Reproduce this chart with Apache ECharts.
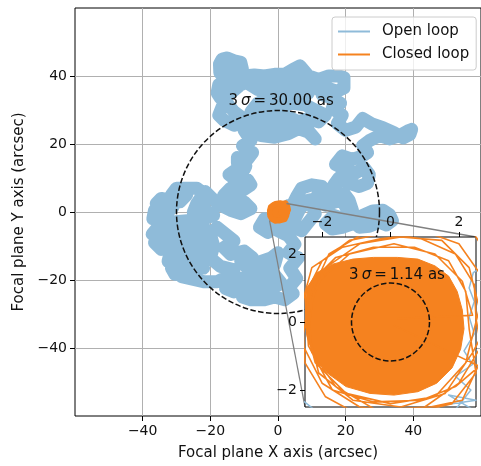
<!DOCTYPE html>
<html><head><meta charset="utf-8">
<script src="https://cdn.jsdelivr.net/npm/echarts@6/dist/echarts.min.js"></script>
<style>html,body{margin:0;padding:0;background:#fff}#c{width:481px;height:466px}</style>
</head><body><div id="c"></div>
<script>
// ---------------- data ----------------
const seriesNames = ['Open loop', 'Closed loop'];
const mainTicks = [-40, -20, 0, 20, 40];
const insetTicks = [-2, 0, 2];
const sigmaOpen = 30.00;   // 3 sigma radius, open loop (arcsec)
const sigmaClosed = 1.14;  // 3 sigma radius, closed loop (arcsec)

// open-loop focal plane trajectory (x, y) in arcsec
const openLoop = [
 [-2.7,-2.2],[-2.2,-2.6],[-1.2,-3.3],[0.4,-3.1],[1.5,-2.45],[2.5,-2.3],[1.7,-2.15],[2.45,-2.6],[1.8,-2.7],
 [2.35,-2.0],[1.9,-1.6],[2.4,-1.25],[2.15,-0.85],[2.45,-0.35],[2.3,0.15],[2.45,0.6],[2.3,1.0],[2.42,1.45],[3.1,1.9],
 [4,1.5],[5.5,4.5],[7,7],[10,8],[13,7.5],[15,5],[12,4],[9,3.5],[6.5,1],[5,-2],[4.5,-4.5],[7,-5.5],[9,-3],[11,-0.5],
 [10,2],[12,5.5],[15,6.5],[14,2],
 [14,1.5],[17,3],[19.5,5.5],[21,3.5],[22,0.5],[19.5,-2],[16.5,-1],[14,-3.5],[16,-5],[19,-4.5],[22,-3.5],[25,-1],
 [28,0.3],[31,0.5],[33,-0.8],[33.8,-2.5],[32,-3.8],[30,-3],[27,-4.2],[24,-4.5],[22,-2],[20,1.5],[18,5],[16.5,8],
 [18,10],[21,8.5],[24,7.5],[26.5,8.5],[27,11],[25.5,13],[23,11.5],[20,12.5],[17,14],[19,16.5],[22,15.5],[25,16.5],
 [26.5,17.5],[25,19.5],[27,21],[30,22.5],[33,21.5],[36,22.5],[38.3,23.8],[39.5,24.3],[39,22.8],[37,21.8],[34,23.5],[31,24.8],
 [28,25.8],[25,27.5],[23,25],[20,24],[17.5,26],[19,28.5],[16,30.5],[18.5,32],[16,33.5],[13,34.5],[14.5,36.5],
 [17.5,35.5],[19.5,36.5],[19.5,39.5],[18,40],[15,40],[12,39],[9,40],[6.5,43],[4.5,42],[2,40.5],[-1,40.5],
 [-4,40],[-7,40.3],[-10,40],[-13,40.5],[-16,39.5],[-17.2,41],[-17.3,43.5],[-16.5,45],[-15,45.3],[-13,44.5],
 [-11,44],[-10.5,42],[-12.5,43],[-15.5,43],[-15,41.5],[-13,38.5],[-16,37],[-17.5,37.5],[-18,35],[-17,33.5],
 [-14.5,34.5],[-11,37.5],[-8,38.5],[-5,37],[-1,38.5],[3,37.5],[7,38.5],[10,37.5],[12,36],
 [10,39.5],[5,40],[0,39.5],[-5,39],[-10,38.5],[-6,36],[-2,36],[2,36.5],[6,36],
 [9,35],[6,34],[3,35],
 [0,34],[-3,33.5],[-6,32],[-8,29.5],[-5,28.5],[-2,30],[1,31],[4,32],[8,31.5],[11,30],[14,28.5],[12,26.5],[9,27.5],
 [6,26.5],[3,28],[0,27],[-3,26],[-6,25],[-8.5,23.5],[-5,22.5],[-1,22],[3,23],[6,24.5],[9,23.5],[11,21.5],
 [8,25],[-2,24.5],[-10,26.5],[-13,25.5],[-16,27],[-17.5,28.5],[-16.5,31],[-15,32],[-13,29.5],[-11,28],
 [-10,24],[-8,21],[-10.5,19.5],[-9,18],[-7.5,17.5],[-9,15.5],[-12,16],[-12,14.5],[-9.5,13.5],[-10,12.5],[-13,12],
 [-14.5,11],[-12.5,9.5],[-9,9.5],[-8,8],[-11,6],[-14,7],[-16,5],[-13,3.5],[-10,3],[-8,1],[-11,-0.5],[-14,0.5],
 [-17,2],[-19.5,4],[-21.5,6],[-23,3.5],
 [-21.5,0.5],[-19,-1],[-22,-2],[-25,0],[-24,2.5],[-22,5.5],[-24,7],[-30,7],[-31.5,5],[-27,5],[-29,3],[-34.5,4],
 [-36,2.5],[-31,1.5],[-33,-0.5],[-36.5,0.5],[-37,-2],[-32,-3],[-26,-2.5],[-22,-4],[-25,-5],[-31,-5],[-35.5,-4.5],
 [-37.2,-6.5],[-35,-7.5],[-29,-7],[-23,-6.5],[-21,-8.5],[-27,-9],[-33,-8.5],[-36.5,-9],[-34.5,-11],[-30,-10.5],
 [-24,-11],[-21,-12.5],[-27,-13],[-32,-12.5],[-32.5,-14.5],[-29,-15],[-23,-14.5],[-22,-16.5],[-28,-17],[-31.5,-16.5],
 [-30.5,-18.3],[-27,-18.5],[-24,-18.3],[-25,-19.5],[-28.5,-19],[-22,-20.5],[-18,-20.5],[-15,-19],[-13,-17],[-17,-16],
 [-20,-13.5],[-19,-10],[-20,-6.5],[-18,-4.5],[-15.5,-6.5],[-13,-8.5],[-16,-10.5],[-14,-12.5],[-10,-11.5],
 [-7.5,-13.5],[-11,-14.5],[-9,-16.5],[-5,-14.5],[-2,-13.5],[0,-12],[-1,-15.5],[-5,-17.5],[-8,-19.5],[-11.5,-19.5],
 [-14,-21.5],[-15.5,-22.5],[-13,-23.5],[-10,-22.5],[-7,-21.5],[-4,-20.5],[-1,-18.5],[1,-21],[-2,-22.5],[-5,-24],
 [-8,-24.5],[-10.5,-25],[-8,-25.8],[-4,-25.8],[-1,-25],[2,-25.8],[4.5,-24],[3,-22.5],[5.5,-19.5],[3.5,-16.5],
 [6,-13.5],[3,-12],[5,-9.5],[3,-7],[1,-6],[-2,-4.5],[-4,-2],[-5.5,-4.5],[-3,-6]
];

// closed-loop trajectory (x, y) in arcsec
const closedLoop = [
 [0.2,0.1],[2.4,0.2],[2.1,1.2],[1.3,2.0],[0.1,2.3],[-1.2,2.0],[-2.1,1.2],[-2.5,0.0],[-2.2,-1.2],[-1.3,-2.1],
 [0.0,-2.4],[1.3,-2.2],[2.2,-1.2],[2.6,0.4],[2.3,1.6],[1.5,2.4],[0.3,2.5],[-0.9,2.3],[-1.9,1.6],[-2.4,0.4],
 [-2.3,-0.9],[-1.6,-1.9],[-0.4,-2.6],[1.0,-2.5],[2.0,-1.8],[2.9,-0.3],[2.7,1.3],[2.0,2.3],[0.6,2.8],[-0.8,2.6],
 [-1.8,2.0],[-2.3,0.9],[-2.6,-0.6],[-2.0,-1.8],[-0.9,-2.5],[0.6,-2.7],[1.8,-2.4],[2.5,-1.5],[2.3,-0.2],[2.2,0.9],
 [1.7,1.8],[0.7,2.2],[-0.5,2.2],[-1.6,1.9],[-2.2,1.3],[-2.4,-0.3],[-2.1,-1.5],[-1.1,-2.3],[0.3,-2.5],[1.6,-2.1],
 [2.4,-0.9],[3.2,0.6],[2.9,1.9],[2.3,2.8],[1.0,2.6],[-0.3,2.45],[-1.4,2.2],[-2.3,1.6],[-2.6,0.5],[-2.5,-1.2],
 [-1.9,-2.2],[-0.8,-2.8],[0.7,-2.6],[2.1,-2.3],[2.7,-1.0],[2.5,0.1],[2.45,1.1],[1.9,2.0],[0.9,2.45],[-0.2,2.6],
 [-1.2,2.4],[-2.0,1.8],[-2.5,0.8],[-2.4,-0.7],[-1.7,-2.0],[-0.5,-2.35],[0.9,-2.3],[1.9,-1.9],[2.6,-1.3],[0.1,-0.1]
];

// outline of the densely covered core of the closed-loop trajectory
const closedCore = [
 [-2.45,1.0],[-2.15,1.45],[-1.7,1.7],[-1.1,1.85],[-0.5,1.9],[0.2,1.9],[0.8,1.85],[1.3,1.65],[1.7,1.35],[1.95,0.9],
 [2.1,0.35],[2.15,-0.2],[2.05,-0.8],[1.8,-1.35],[1.35,-1.8],[0.8,-2.05],[0.1,-2.15],[-0.6,-2.1],[-1.3,-1.9],
 [-1.85,-1.5],[-2.25,-1.0],[-2.45,-0.4],[-2.5,0.3]
];

// ---------------- styling ----------------
const FONT = 'DejaVu Sans';
const BLUE = '#8fbbd9';
const ORANGE = '#f5821f';
const TXT = '#111';
const fmt = v => (v < 0 ? '\u2212' + Math.abs(v) : String(v));
const mainExtent = [-60, 60];
const insetExtent = [-2.5, 2.5];
const mainLabelAt = [0.9, 32.6];
const insetLabelAt = [0.19, 1.38];

function sigmaRender(labelAt, fontSize) {
  return function (params, api) {
    const c = api.coord([api.value(0), api.value(1)]);
    const r = api.size([api.value(2), 0])[0];
    const t = api.coord(labelAt);
    return {
      type: 'group',
      children: [
        { type: 'circle', shape: { cx: c[0], cy: c[1], r: r },
          style: { fill: 'none', stroke: '#111', lineWidth: 1.5, lineDash: [5.5, 2.4] } },
        { type: 'text', x: t[0], y: t[1],
          style: { text: '{n|3\u2009}{s|σ}{n|\u2009=\u2009' + api.value(2).toFixed(2) + ' as}',
                   align: 'center', verticalAlign: 'middle',
                   rich: { n: { fontFamily: FONT, fontSize: fontSize, fill: TXT },
                           s: { fontFamily: FONT, fontSize: fontSize, fontStyle: 'italic', fill: TXT } } } }
      ]
    };
  };
}
function coreRender(params, api) {
  return { type: 'polygon', shape: { points: closedCore.map(p => api.coord(p)) },
           style: { fill: ORANGE, stroke: ORANGE, lineWidth: 1 } };
}

const chart = echarts.init(document.getElementById('c'), null, { renderer: 'canvas' });

function axisDef(gridIndex, extent, ticks, extra) {
  return Object.assign({
    type: 'value', gridIndex: gridIndex, min: extent[0], max: extent[1],
    axisLine: { show: false, onZero: false },
    axisTick: { show: true, inside: false, length: 5, lineStyle: { color: '#000', width: 1 }, customValues: ticks },
    axisLabel: { formatter: fmt, fontFamily: FONT, fontSize: 14, color: TXT, margin: 8, customValues: ticks },
    nameTextStyle: { fontFamily: FONT, fontSize: 15, color: TXT }
  }, extra);
}

const option = {
  animation: false,
  backgroundColor: '#fff',
  grid: [
    { left: 75, top: 8, width: 409, height: 408, show: true, borderColor: '#000', borderWidth: 1,
      backgroundColor: 'transparent' },
    { left: 305, top: 237, width: 171, height: 170, show: true, borderColor: '#000', borderWidth: 1,
      backgroundColor: '#fff', z: 10 }
  ],
  xAxis: [
    axisDef(0, mainExtent, mainTicks, { interval: 20,
      splitLine: { show: true, lineStyle: { color: '#b0b0b0', width: 1 } },
      name: 'Focal plane X axis (arcsec)', nameLocation: 'middle', nameGap: 30 }),
    axisDef(1, insetExtent, insetTicks, { position: 'top', z: 14, splitLine: { show: false } })
  ],
  yAxis: [
    axisDef(0, mainExtent, mainTicks, { interval: 20,
      splitLine: { show: true, lineStyle: { color: '#b0b0b0', width: 1 } },
      name: 'Focal plane Y axis (arcsec)', nameLocation: 'middle', nameGap: 48 }),
    axisDef(1, insetExtent, insetTicks, { position: 'left', z: 14, splitLine: { show: false } })
  ],
  legend: {
    data: seriesNames, orient: 'vertical', left: 332, top: 17,
    padding: [6, 7, 7, 6], icon: 'rect', itemWidth: 32, itemHeight: 2, itemGap: 6,
    backgroundColor: 'rgba(255,255,255,0.8)', borderColor: '#cccccc', borderWidth: 1, borderRadius: 3,
    textStyle: { fontFamily: FONT, fontSize: 15, color: TXT, padding: [0, 0, 0, 7], lineHeight: 17 },
    selectedMode: false, z: 20
  },
  series: [
    { type: 'line', name: seriesNames[0], xAxisIndex: 0, yAxisIndex: 0, data: openLoop,
      symbol: 'none', showSymbol: false, silent: true, z: 2,
      lineStyle: { color: BLUE, width: 13, join: 'round', cap: 'round' }, itemStyle: { color: BLUE } },
    { type: 'custom', name: 'core-main', xAxisIndex: 0, yAxisIndex: 0, data: [[0, 0]],
      renderItem: coreRender, silent: true, z: 3 },
    { type: 'line', name: seriesNames[1], xAxisIndex: 0, yAxisIndex: 0, data: closedLoop,
      symbol: 'none', showSymbol: false, silent: true, z: 3,
      lineStyle: { color: ORANGE, width: 4.5, join: 'round' }, itemStyle: { color: ORANGE } },
    { type: 'custom', name: 'sigma-main', xAxisIndex: 0, yAxisIndex: 0, data: [[0, 0, sigmaOpen]],
      renderItem: sigmaRender(mainLabelAt, 15), silent: true, z: 4 },

    { type: 'line', name: seriesNames[0], xAxisIndex: 1, yAxisIndex: 1, data: openLoop,
      symbol: 'none', showSymbol: false, silent: true, z: 11, clip: true,
      lineStyle: { color: BLUE, width: 1.5, join: 'round' }, itemStyle: { color: BLUE } },
    { type: 'custom', name: 'core-inset', xAxisIndex: 1, yAxisIndex: 1, data: [[0, 0]],
      renderItem: coreRender, silent: true, z: 12, clip: true },
    { type: 'line', name: seriesNames[1], xAxisIndex: 1, yAxisIndex: 1, data: closedLoop,
      symbol: 'none', showSymbol: false, silent: true, z: 12, clip: true,
      lineStyle: { color: ORANGE, width: 1.6, join: 'round' }, itemStyle: { color: ORANGE } },
    { type: 'custom', name: 'sigma-inset', xAxisIndex: 1, yAxisIndex: 1, data: [[0, 0, sigmaClosed]],
      renderItem: sigmaRender(insetLabelAt, 15), silent: true, z: 13 }
  ]
};
chart.setOption(option);

// connector lines between the zoomed region and the inset (mark_inset)
const a0 = chart.convertToPixel({ gridIndex: 0 }, [insetExtent[1], insetExtent[1]]);
const a1 = chart.convertToPixel({ gridIndex: 1 }, [insetExtent[1], insetExtent[1]]);
const b0 = chart.convertToPixel({ gridIndex: 0 }, [insetExtent[0], insetExtent[0]]);
const b1 = chart.convertToPixel({ gridIndex: 1 }, [insetExtent[0], insetExtent[0]]);
chart.setOption({
  graphic: [
    { type: 'line', z: 5, silent: true, shape: { x1: a0[0], y1: a0[1], x2: a1[0], y2: a1[1] },
      style: { stroke: '#808080', lineWidth: 1.3 } },
    { type: 'line', z: 5, silent: true, shape: { x1: b0[0], y1: b0[1], x2: b1[0], y2: b1[1] },
      style: { stroke: '#808080', lineWidth: 1.3 } }
  ]
});
</script>
</body></html>
